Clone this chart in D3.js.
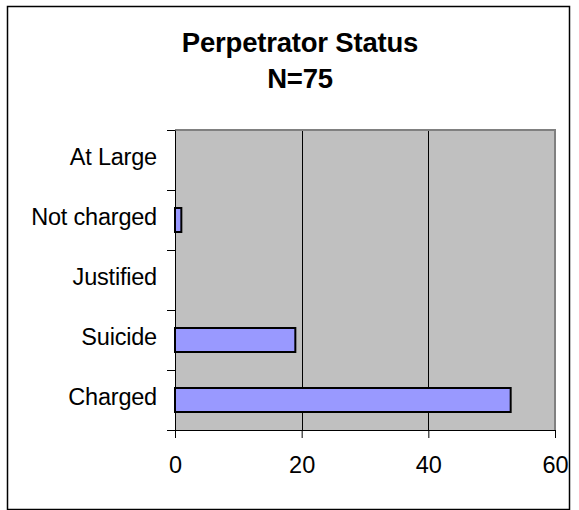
<!DOCTYPE html>
<html>
<head>
<meta charset="utf-8">
<script src="https://cdn.jsdelivr.net/npm/d3@7"></script>
<style>
  body { margin: 0; background: #fff; }
  text { font-family: "Liberation Sans", Arial, sans-serif; fill: #000; }
</style>
</head>
<body>
<div class="chart"></div>
<script>
// data, top category first
var categories = ["At Large", "Not charged", "Justified", "Suicide", "Charged"];
var counts = [0, 1, 0, 19, 53];
var xTicks = [0, 20, 40, 60];
var titleLines = ["Perpetrator Status", "N=75"];

var svgWidth = 579;
var svgHeight = 510;

var plot = { left: 175, right: 555, top: 130, bottom: 430 };

var svg = d3.select(".chart")
  .append("svg")
  .attr("width", svgWidth)
  .attr("height", svgHeight);

// outer frame
svg.append("rect")
  .attr("x", 7.5)
  .attr("y", 6.5)
  .attr("width", 562)
  .attr("height", 503)
  .attr("fill", "#fff")
  .attr("stroke", "#000")
  .attr("stroke-width", 1.5);

// title
svg.append("text")
  .attr("text-anchor", "middle")
  .style("font-size", "27.5px")
  .style("font-weight", "bold")
  .style("letter-spacing", "-0.2px")
  .selectAll("tspan")
  .data(titleLines)
  .enter()
  .append("tspan")
  .attr("x", 300)
  .attr("y", (d, i) => 52 + i * 36)
  .text(d => d);

var xScale = d3.scaleLinear()
  .domain([0, 60])
  .range([plot.left, plot.right]);

var yScale = d3.scaleBand()
  .domain(categories)
  .range([plot.top, plot.bottom]);

// plot background
svg.append("rect")
  .attr("x", plot.left)
  .attr("y", plot.top)
  .attr("width", plot.right - plot.left)
  .attr("height", plot.bottom - plot.top)
  .attr("fill", "#c0c0c0");

// gridlines
svg.append("g")
  .selectAll("line")
  .data(xTicks.filter(d => d > 0 && d < 60))
  .enter()
  .append("line")
  .attr("x1", d => Math.round(xScale(d)) + 0.5)
  .attr("x2", d => Math.round(xScale(d)) + 0.5)
  .attr("y1", plot.top)
  .attr("y2", plot.bottom)
  .attr("stroke", "#000")
  .attr("stroke-width", 1);

// plot border (top, right)
svg.append("path")
  .attr("d", `M${plot.left},${plot.top} H${plot.right} V${plot.bottom}`)
  .attr("fill", "none")
  .attr("stroke", "#808080")
  .attr("stroke-width", 2);

// bars
var bw = yScale.bandwidth();
svg.append("g")
  .selectAll("rect")
  .data(categories.map((c, i) => ({ cat: c, value: counts[i] })).filter(d => d.value > 0))
  .enter()
  .append("rect")
  .attr("x", xScale(0))
  .attr("y", d => yScale(d.cat) + bw * 0.3)
  .attr("width", d => xScale(d.value) - xScale(0))
  .attr("height", bw * 0.4)
  .attr("fill", "#9999ff")
  .attr("stroke", "#000")
  .attr("stroke-width", 2);

// x axis
var bottomAxis = d3.axisBottom(xScale)
  .tickValues(xTicks)
  .tickSize(8)
  .tickPadding(18)
  .tickSizeOuter(0);

var xAxis = svg.append("g")
  .attr("transform", `translate(0, ${plot.bottom})`)
  .call(bottomAxis);
xAxis.selectAll("text")
  .style("font-size", "23.5px")
  .style("font-family", "'Liberation Sans', Arial, sans-serif")
  .attr("fill", "#000");
xAxis.selectAll("line, path").attr("stroke", "#000");

// y axis labels
var leftAxis = d3.axisLeft(yScale)
  .tickSize(0)
  .tickPadding(18);

var yAxis = svg.append("g")
  .attr("transform", `translate(${plot.left}, 0)`)
  .call(leftAxis);
yAxis.selectAll("text")
  .style("font-size", "23.5px")
  .style("font-family", "'Liberation Sans', Arial, sans-serif")
  .style("letter-spacing", "-0.2px")
  .attr("dy", "0.2em")
  .attr("fill", "#000");
yAxis.select("path").attr("stroke", "#000");

// category ticks between bands
var tickPos = categories.map(c => yScale(c)).concat([plot.bottom]);
svg.append("g")
  .selectAll("line")
  .data(tickPos)
  .enter()
  .append("line")
  .attr("x1", plot.left - 8)
  .attr("x2", plot.left)
  .attr("y1", d => d + 0.5)
  .attr("y2", d => d + 0.5)
  .attr("stroke", "#000");
</script>
</body>
</html>
